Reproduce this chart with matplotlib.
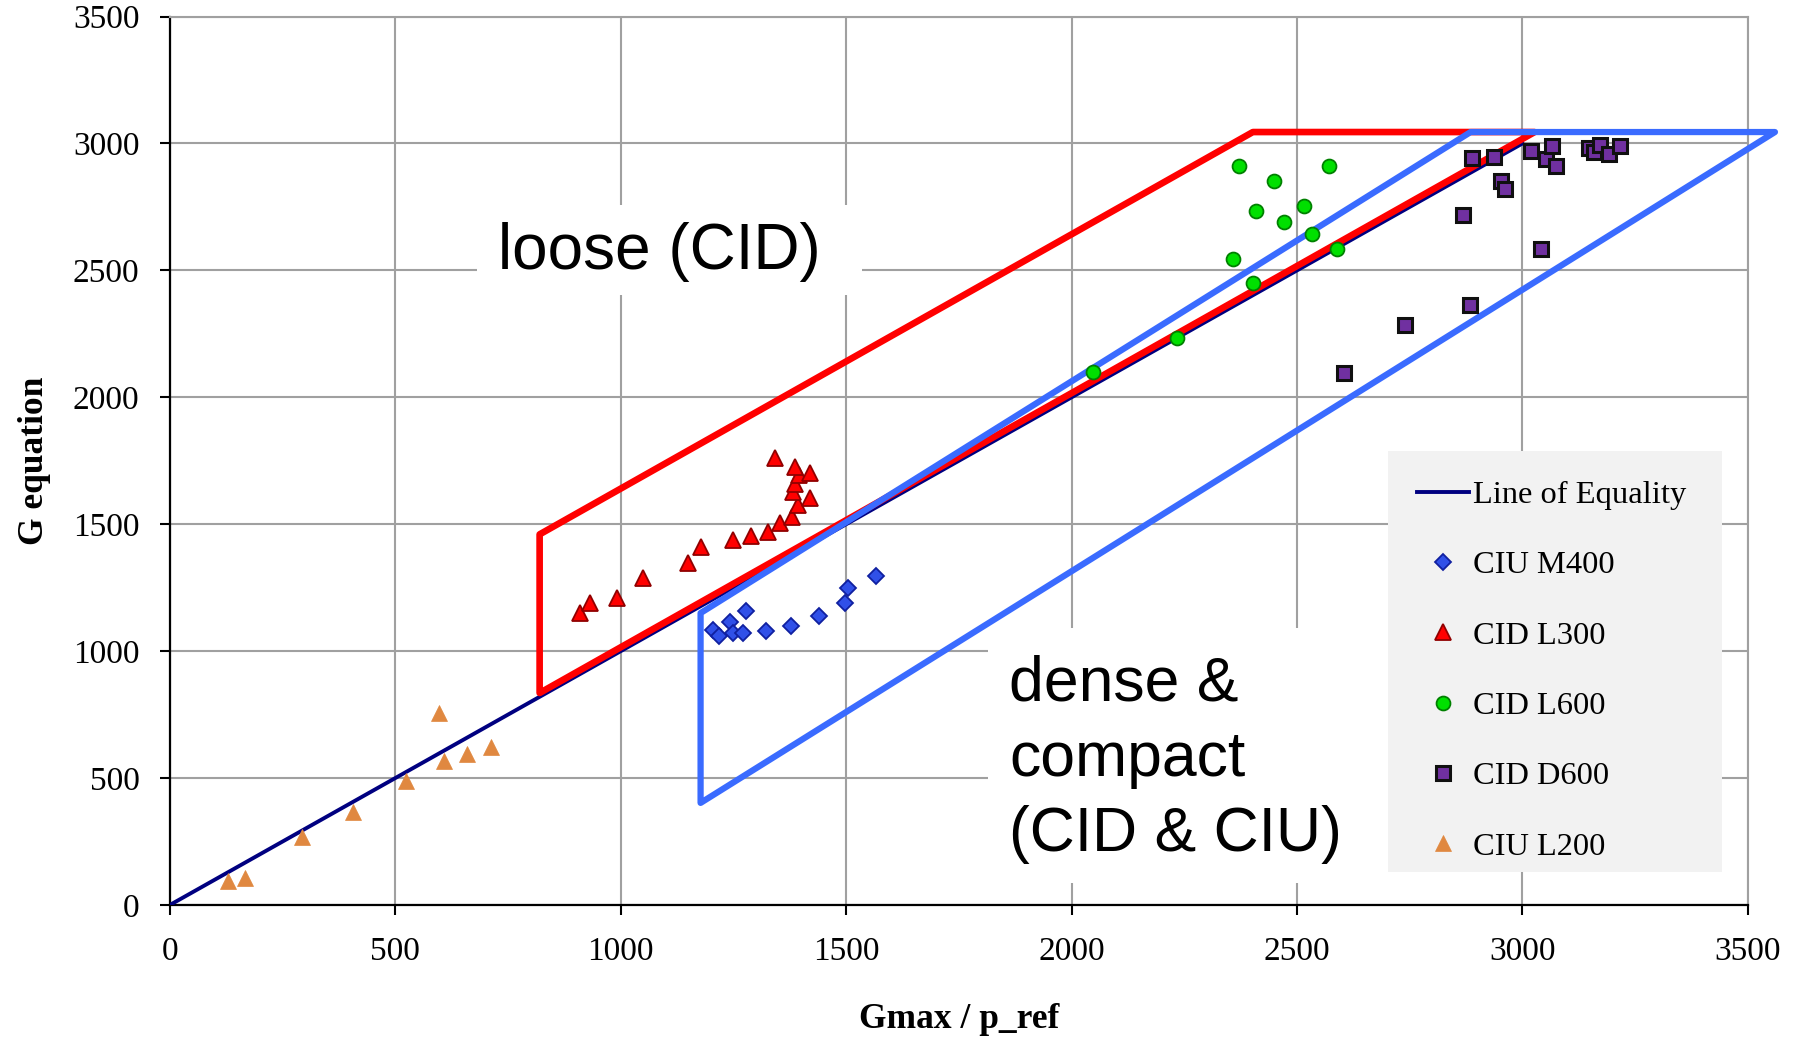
import numpy as np
import matplotlib
matplotlib.use("Agg")
import matplotlib.pyplot as plt
from matplotlib.patches import Polygon, Rectangle

# data (x = Gmax / p_ref, y = G from equation)
ciu_m400_x = [1205, 1218, 1243, 1249, 1271, 1277, 1321, 1377, 1439, 1498, 1504, 1567]
ciu_m400_y = [1084, 1059, 1114, 1071, 1071, 1160, 1081, 1099, 1139, 1189, 1247, 1297]

cid_l300_x = [909, 931, 991, 1050, 1148, 1177, 1248, 1288, 1326, 1354, 1379, 1393,
              1419, 1382, 1386, 1396, 1386, 1419, 1343]
cid_l300_y = [1150, 1190, 1208, 1287, 1347, 1409, 1439, 1455, 1470, 1504, 1528, 1576,
              1602, 1625, 1660, 1694, 1727, 1703, 1760]

cid_l600_x = [2048, 2233, 2402, 2359, 2589, 2533, 2408, 2471, 2515, 2448, 2371, 2570]
cid_l600_y = [2100, 2235, 2451, 2544, 2583, 2643, 2733, 2691, 2755, 2852, 2911, 2911]

cid_d600_x = [2604, 2739, 2883, 2867, 3040, 2889, 2937, 2952, 2961, 3018, 3052, 3066,
              3074, 3148, 3158, 3171, 3191, 3217]
cid_d600_y = [2096, 2284, 2362, 2720, 2583, 2941, 2948, 2853, 2820, 2972, 2939, 2991,
              2911, 2981, 2968, 2994, 2957, 2990]

ciu_l200_x = [128, 166, 294, 405, 523, 597, 608, 658, 713]
ciu_l200_y = [94, 107, 269, 368, 488, 755, 569, 594, 624]

equality_x = [0, 3000]
equality_y = [0, 3000]

# zone outlines
loose_zone = [(820, 1460), (820, 835), (3027, 3045), (2402, 3045)]
dense_zone = [(1177, 1150), (1177, 402), (3560, 3045), (2885, 3045)]

plt.rcParams['font.family'] = ['Liberation Serif', 'DejaVu Serif']

fig = plt.figure(figsize=(18.04, 10.41), dpi=100)
ax = fig.add_axes([0.0942, 0.1307, 0.8747, 0.8534])

ax.set_xlim(0, 3500)
ax.set_ylim(0, 3500)
ax.set_xticks(np.arange(0, 3501, 500))
ax.set_yticks(np.arange(0, 3501, 500))
ax.set_axisbelow(True)
ax.grid(True, color='#a0a0a0', lw=1.5)

for s in ['top', 'right']:
    ax.spines[s].set_color('#a0a0a0')
    ax.spines[s].set_linewidth(1.5)
for s in ['left', 'bottom']:
    ax.spines[s].set_color('black')
    ax.spines[s].set_linewidth(1.6)
ax.tick_params(axis='both', direction='out', length=7, width=1.5, labelsize=24)
ax.tick_params(axis='y', pad=15)
ax.tick_params(axis='x', pad=16)

ax.set_xlabel('Gmax / p_ref', fontsize=25.5, fontweight='bold', labelpad=26)
ax.set_ylabel('G equation', fontsize=25.5, fontweight='bold', labelpad=16)

# white backgrounds behind the zone labels
ax.add_patch(Rectangle((681, 2403), 854, 355, facecolor='white', edgecolor='none', zorder=1))
ax.add_patch(Rectangle((1814, 87), 887, 1004, facecolor='white', edgecolor='none', zorder=1))

ax.plot(equality_x, equality_y, color='#000080', lw=2.8, zorder=3, label='Line of Equality')

ax.add_patch(Polygon(loose_zone, closed=True, fill=False, edgecolor='#ff0000', lw=4.8,
                     joinstyle='round', zorder=4, clip_on=False))
ax.add_patch(Polygon(dense_zone, closed=True, fill=False, edgecolor='#3a6bff', lw=4.5,
                     joinstyle='round', zorder=4, clip_on=False))

ax.plot(ciu_m400_x, ciu_m400_y, ls='none', marker='D', ms=8, mfc='#3050e8',
        mec='#1020a0', mew=1.3, zorder=5, label='CIU M400')
ax.plot(cid_l300_x, cid_l300_y, ls='none', marker='^', ms=11, mfc='#ff0000',
        mec='#900000', mew=1.3, zorder=5, label='CID L300')
ax.plot(cid_l600_x, cid_l600_y, ls='none', marker='o', ms=10, mfc='#00e000',
        mec='#008000', mew=1.3, zorder=5, label='CID L600')
ax.plot(cid_d600_x, cid_d600_y, ls='none', marker='s', ms=10, mfc='#7030a0',
        mec='#101010', mew=2.2, zorder=5, label='CID D600')
ax.plot(ciu_l200_x, ciu_l200_y, ls='none', marker='^', ms=11.5, mfc='#e08840',
        mec='#e08840', mew=0.5, zorder=5, label='CIU L200')

ax.text(727, 2506, 'loose (CID)', family='Liberation Sans', fontsize=46,
        ha='left', va='baseline', zorder=6)
ax.text(1861, 988, 'dense &\ncompact\n(CID & CIU)', family='Liberation Sans',
        fontsize=45, ha='left', va='top', linespacing=1.36, zorder=6)

# grey legend panel, legend itself drawn without frame on top
ax.add_patch(Rectangle((0.772, 0.037), 0.2115, 0.474, transform=ax.transAxes,
                       facecolor='#f2f2f2', edgecolor='none', zorder=6.5))
leg = ax.legend(loc='upper left', bbox_to_anchor=(0.772, 0.511), borderaxespad=0,
                fontsize=23.4, frameon=False, borderpad=0.9,
                labelspacing=1.25, handlelength=1.6, handletextpad=0.1)
leg.set_zorder(7)

fig.savefig('out.png', dpi=100)
